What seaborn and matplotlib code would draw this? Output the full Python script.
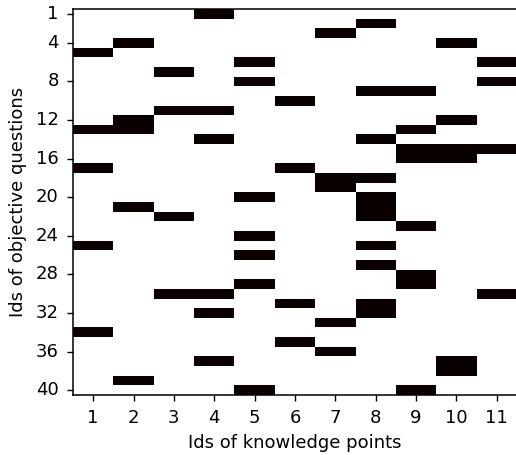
import numpy as np
import pandas as pd
import matplotlib
matplotlib.use("Agg")
import matplotlib.pyplot as plt
import seaborn as sns

# knowledge points linked to each objective question (1-based ids)
n_questions = 40
n_points = 11
question_points = [
    [4], [8], [7], [2, 10], [1], [5, 11], [3], [5, 11], [8, 9], [6],
    [3, 4], [2, 10], [1, 2, 9], [4, 8], [9, 10, 11], [9, 10], [1, 6], [7, 8], [7], [5, 8],
    [2, 8], [3, 8], [9], [5], [1, 8], [5], [8], [9], [5, 9], [3, 4, 11],
    [6, 8], [4, 8], [7], [1], [6], [7], [4, 10], [10], [2], [5, 9],
]
ytick_labels = [1, 4, 8, 12, 16, 20, 24, 28, 32, 36, 40]
xtick_labels = list(range(1, n_points + 1))

# build the Q-matrix
q = np.zeros((n_questions, n_points))
for i, pts in enumerate(question_points):
    for p in pts:
        q[i, p - 1] = 1
df = pd.DataFrame(q, index=range(1, n_questions + 1), columns=xtick_labels)

fig = plt.figure(figsize=(5.16, 4.55), dpi=100)
ax = fig.add_axes([73 / 516, 60 / 455, 444 / 516, 386 / 455])

sns.heatmap(df, cmap='hot_r', vmin=0, vmax=1, cbar=False, ax=ax)

for s in ax.spines.values():
    s.set_visible(True)
    s.set_color('black')
    s.set_linewidth(1.1)

ax.set_xticks(np.arange(n_points) + 0.5)
ax.set_xticklabels(xtick_labels, rotation=0, fontsize=13)
ax.set_yticks(np.array(ytick_labels) - 0.5)
ax.set_yticklabels(ytick_labels, rotation=0, fontsize=13)
ax.tick_params(axis='both', length=4.6, width=1.0, pad=5.6)

ax.set_xlabel('Ids of knowledge points', fontsize=13, labelpad=5)
ax.set_ylabel('Ids of objective questions', fontsize=13, labelpad=6)

fig.savefig('out.png', dpi=100)
